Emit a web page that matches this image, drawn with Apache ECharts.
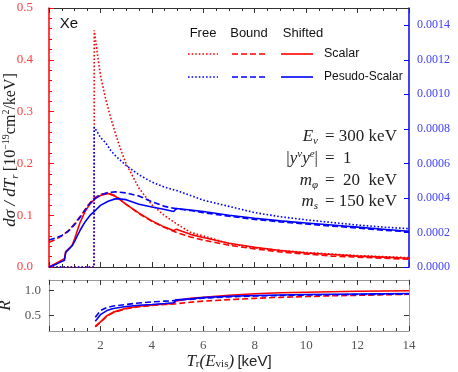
<!DOCTYPE html>
<html>
<head>
<meta charset="utf-8">
<script src="https://cdn.jsdelivr.net/npm/echarts@6/dist/echarts.min.js"></script>
<style>
body { margin: 0; background: #fff; }
#container { width: 458px; height: 372px; }
</style>
</head>
<body>
<div id="container"></div>
<script>
// free electron (x shared by both free curves)
var freeX = [0, 1.75, 1.76, 1.9, 2.0, 2.2, 2.4, 2.6, 2.8, 3.0, 3.5, 4.0, 4.5, 5.0, 5.5, 6, 7, 8, 9, 10, 11, 12, 13, 14];
var scalarFree = [0, 0, 0.457, 0.405, 0.37, 0.325, 0.288, 0.255, 0.225, 0.199, 0.152, 0.12, 0.099, 0.082, 0.067, 0.06, 0.045, 0.037, 0.032, 0.028, 0.025, 0.022, 0.02, 0.018];
var pseudoFree = [0, 0, 0.00081, 0.000777, 0.00075, 0.00072, 0.000675, 0.000642, 0.000615, 0.000588, 0.000534, 0.000492, 0.000462, 0.000441, 0.000414, 0.000387, 0.000351, 0.000315, 0.000291, 0.000273, 0.000258, 0.000243, 0.000231, 0.000222];

// bound electron
var boundX = [0, 0.25, 0.5, 0.75, 1.0, 1.25, 1.5, 1.75, 2.0, 2.3, 2.6, 3.0, 3.5, 4.0, 4.5, 5, 5.5, 6, 7, 8, 9, 10, 11, 12, 13, 14];
var scalarBound = [0.048, 0.053, 0.06, 0.07, 0.084, 0.1, 0.118, 0.133, 0.14, 0.143, 0.137, 0.121, 0.103, 0.088, 0.076, 0.066, 0.058, 0.052, 0.042, 0.035, 0.029, 0.025, 0.021, 0.019, 0.017, 0.015];
var pseudoBound = [0.000156, 0.000168, 0.000183, 0.000207, 0.000246, 0.000297, 0.000351, 0.000393, 0.000417, 0.000432, 0.000435, 0.000429, 0.000411, 0.000378, 0.000351, 0.000336, 0.000327, 0.000315, 0.000294, 0.000276, 0.000261, 0.000249, 0.000237, 0.000225, 0.000213, 0.000204];

// shifted
var shiftX = [0, 0.3, 0.6, 0.65, 0.8, 0.9, 1.0, 1.2, 1.4, 1.6, 1.8, 2.0, 2.3, 2.6, 3.0, 3.5, 4.0, 4.5, 4.85, 4.95, 5.5, 6, 7, 8, 9, 10, 11, 12, 13, 14];
var scalarShift = [0, 0.008, 0.016, 0.03, 0.037, 0.042, 0.055, 0.085, 0.107, 0.122, 0.132, 0.138, 0.142, 0.136, 0.121, 0.104, 0.089, 0.077, 0.07, 0.073, 0.063, 0.057, 0.046, 0.038, 0.032, 0.027, 0.024, 0.021, 0.019, 0.017];
var pseudoShift = [0, 0.000018, 0.000039, 0.000084, 0.000108, 0.000123, 0.00015, 0.00021, 0.000261, 0.0003, 0.000327, 0.000357, 0.000381, 0.000396, 0.00039, 0.000363, 0.000348, 0.000333, 0.000321, 0.000339, 0.00033, 0.000321, 0.0003, 0.000282, 0.000267, 0.000255, 0.000243, 0.000231, 0.000219, 0.000207];

// ratio panel
var ratioX = [1.8, 2, 2.25, 2.5, 3, 3.5, 4, 4.5, 4.85, 4.95, 5.5, 6, 7, 8, 9, 10, 11, 12, 13, 14];
var ratioScalarShift = [0.29, 0.38, 0.5, 0.57, 0.645, 0.685, 0.71, 0.73, 0.74, 0.79, 0.84, 0.86, 0.9, 0.93, 0.95, 0.96, 0.97, 0.98, 0.985, 0.99];
var ratioScalarBound = [0.28, 0.37, 0.49, 0.56, 0.635, 0.675, 0.7, 0.72, 0.73, 0.735, 0.765, 0.785, 0.815, 0.84, 0.86, 0.875, 0.89, 0.9, 0.91, 0.92];
var ratioPseudoShift = [0.39, 0.52, 0.6, 0.64, 0.68, 0.705, 0.72, 0.74, 0.755, 0.81, 0.83, 0.855, 0.88, 0.895, 0.905, 0.915, 0.92, 0.925, 0.93, 0.935];
var ratioPseudoBound = [0.47, 0.6, 0.66, 0.69, 0.72, 0.75, 0.77, 0.785, 0.795, 0.81, 0.82, 0.845, 0.87, 0.885, 0.895, 0.905, 0.91, 0.915, 0.92, 0.925];

var RED = '#ff0000', BLUE = '#0000ff';
var serif = 'Liberation Serif';
var sans = 'Liberation Sans';

function pairs(xs, ys) {
    return xs.map(function (x, i) { return [x, ys[i]]; });
}

function line(name, xs, ys, color, type, xi, yi) {
    return {
        name: name, type: 'line', xAxisIndex: xi, yAxisIndex: yi,
        data: pairs(xs, ys), showSymbol: false, animation: false,
        lineStyle: { color: color, width: 1.6, type: type }
    };
}

var dotted = [1.6, 2];
var dashed = [6, 3];

function xTicks(grid, pos, labels) {
    var col = grid === 0 ? '#333' : '#999';
    return {
        type: 'value', gridIndex: grid, position: pos, min: 0, max: 14, interval: 2,
        axisLine: { show: true, onZero: false, lineStyle: { color: col, width: 1 } },
        axisTick: { show: true, inside: true, length: 5, lineStyle: { color: '#333' } },
        minorTick: { show: true, splitNumber: 4, length: 3, lineStyle: { color: '#333' } },
        axisLabel: {
            show: labels, fontFamily: serif, fontSize: 13, color: '#555', margin: 8, showMinLabel: false
        },
        splitLine: { show: false }
    };
}

function paramLabel(y, sym, rest) {
    var rich = {
        i: { fontFamily: serif, fontStyle: 'italic', fontSize: 17, fill: '#222', lineHeight: 20 },
        n: { fontFamily: serif, fontSize: 17, fill: '#222', lineHeight: 20 },
        sub: { fontFamily: serif, fontStyle: 'italic', fontSize: 11, fill: '#222', verticalAlign: 'bottom' },
        sup: { fontFamily: serif, fontStyle: 'italic', fontSize: 11, fill: '#222', verticalAlign: 'top' }
    };
    return {
        type: 'group',
        children: [
            { type: 'text', x: 318, y: y, style: { text: sym, rich: rich, align: 'right', verticalAlign: 'middle' } },
            { type: 'text', x: 325, y: y, style: { text: '{n|' + rest + '}', rich: rich, align: 'left', verticalAlign: 'middle' } }
        ]
    };
}

var dom = document.getElementById('container');
var myChart = echarts.init(dom);
var option = {
    backgroundColor: '#fff',
    animation: false,
    grid: [
        { left: 49, right: 49, top: 8, height: 259, outerBoundsMode: 'none' },
        { left: 49, right: 49, top: 280, height: 51, outerBoundsMode: 'none' }
    ],
    xAxis: [
        xTicks(0, 'bottom', false),
        xTicks(0, 'top', false),
        Object.assign(xTicks(1, 'bottom', true), {
            name: '{i|T}{sub|r}{i|(E}{sub|vis}{i|)} {n|[keV]}',
            nameLocation: 'middle', nameGap: 20,
            nameTextStyle: {
                rich: {
                    i: { fontFamily: serif, fontStyle: 'italic', fontSize: 17, color: '#222' },
                    sub: { fontFamily: serif, fontSize: 11, color: '#222', verticalAlign: 'bottom', padding: [6, 0, 0, 0] },
                    n: { fontFamily: sans, fontSize: 15, color: '#222' }
                }
            }
        }),
        xTicks(1, 'top', false)
    ],
    yAxis: [
        {
            type: 'value', gridIndex: 0, position: 'left', min: 0, max: 0.5, interval: 0.1,
            axisLine: { show: true, onZero: false, lineStyle: { color: RED, width: 1.5 } },
            axisTick: { inside: true, length: 5, lineStyle: { color: RED } },
            minorTick: { show: true, splitNumber: 5, length: 3, lineStyle: { color: RED } },
            axisLabel: { fontFamily: serif, fontSize: 13, color: '#ff4040', margin: 16,
                formatter: function (v) { return v.toFixed(1); } },
            splitLine: { show: false }
        },
        {
            type: 'value', gridIndex: 0, position: 'right', min: 0, max: 0.0015, interval: 0.0002,
            axisLine: { show: true, onZero: false, lineStyle: { color: BLUE, width: 1.5 } },
            axisTick: { inside: true, length: 5, lineStyle: { color: BLUE } },
            axisLabel: { fontFamily: serif, fontSize: 12, color: '#4040ff', margin: 8, showMaxLabel: false,
                formatter: function (v) { return v.toFixed(4); } },
            splitLine: { show: false }
        },
        {
            type: 'value', gridIndex: 1, position: 'left', min: 0.2, max: 1.2,
            name: 'R', nameLocation: 'middle', nameGap: 32, nameRotate: 90,
            nameTextStyle: { fontFamily: serif, fontStyle: 'italic', fontSize: 17, color: '#222' },
            axisLine: { show: true, onZero: false, lineStyle: { color: '#999' } },
            axisTick: { inside: true, length: 5, customValues: [0.5, 1.0], lineStyle: { color: '#333' } },
            axisLabel: { fontFamily: serif, fontSize: 13, color: '#555', margin: 8, customValues: [0.5, 1.0],
                formatter: function (v) { return v.toFixed(1); } },
            splitLine: { show: false }
        },
        {
            type: 'value', gridIndex: 1, position: 'right', min: 0.2, max: 1.2,
            axisLine: { show: true, onZero: false, lineStyle: { color: '#999' } },
            axisTick: { inside: true, length: 5, customValues: [0.5, 1.0], lineStyle: { color: '#333' } },
            axisLabel: { show: false },
            splitLine: { show: false }
        }
    ],
    series: [
        line('Scalar Free', freeX, scalarFree, RED, dotted, 0, 0),
        line('Scalar Bound', boundX, scalarBound, RED, dashed, 0, 0),
        line('Scalar Shifted', shiftX, scalarShift, RED, 'solid', 0, 0),
        line('Pseudo Free', freeX, pseudoFree, BLUE, dotted, 0, 1),
        line('Pseudo Bound', boundX, pseudoBound, BLUE, dashed, 0, 1),
        line('Pseudo Shifted', shiftX, pseudoShift, BLUE, 'solid', 0, 1),
        line('R Scalar Bound', ratioX, ratioScalarBound, RED, dashed, 2, 2),
        line('R Scalar Shifted', ratioX, ratioScalarShift, RED, 'solid', 2, 2),
        line('R Pseudo Bound', ratioX, ratioPseudoBound, BLUE, dashed, 2, 2),
        line('R Pseudo Shifted', ratioX, ratioPseudoShift, BLUE, 'solid', 2, 2)
    ],
    graphic: [
        // y axis title
        {
            type: 'text', x: 11, y: 150, rotation: Math.PI / 2,
            style: {
                text: '{i|dσ / dT}{sub|r} {n|[10}{sup|−19}{n|cm}{sup|2}{n|/keV]}',
                align: 'center', verticalAlign: 'middle',
                rich: {
                    i: { fontFamily: serif, fontStyle: 'italic', fontSize: 17, fill: '#222', lineHeight: 20 },
                    sub: { fontFamily: serif, fontStyle: 'italic', fontSize: 11, fill: '#222', verticalAlign: 'bottom' },
                    n: { fontFamily: serif, fontSize: 16, fill: '#222', lineHeight: 20 },
                    sup: { fontFamily: serif, fontSize: 10, fill: '#222', verticalAlign: 'top' }
                }
            }
        },
        { type: 'text', x: 69, y: 24, style: { text: 'Xe', fontFamily: sans, fontSize: 15, fill: '#111', align: 'center', verticalAlign: 'middle' } },
        // legend header
        { type: 'text', x: 203, y: 33, style: { text: 'Free', fontFamily: sans, fontSize: 13, fill: '#111', align: 'center', verticalAlign: 'middle' } },
        { type: 'text', x: 249, y: 33, style: { text: 'Bound', fontFamily: sans, fontSize: 13, fill: '#111', align: 'center', verticalAlign: 'middle' } },
        { type: 'text', x: 303, y: 33, style: { text: 'Shifted', fontFamily: sans, fontSize: 13, fill: '#111', align: 'center', verticalAlign: 'middle' } },
        // legend rows
        { type: 'line', shape: { x1: 188, y1: 54, x2: 218, y2: 54 }, style: { stroke: RED, lineWidth: 1.6, lineDash: dotted } },
        { type: 'line', shape: { x1: 232, y1: 54, x2: 265, y2: 54 }, style: { stroke: RED, lineWidth: 1.6, lineDash: dashed } },
        { type: 'line', shape: { x1: 281, y1: 54, x2: 313, y2: 54 }, style: { stroke: RED, lineWidth: 1.6 } },
        { type: 'text', x: 324, y: 54, style: { text: 'Scalar', fontFamily: sans, fontSize: 12.5, fill: '#111', verticalAlign: 'middle' } },
        { type: 'line', shape: { x1: 188, y1: 77, x2: 218, y2: 77 }, style: { stroke: BLUE, lineWidth: 1.6, lineDash: dotted } },
        { type: 'line', shape: { x1: 232, y1: 77, x2: 265, y2: 77 }, style: { stroke: BLUE, lineWidth: 1.6, lineDash: dashed } },
        { type: 'line', shape: { x1: 281, y1: 77, x2: 313, y2: 77 }, style: { stroke: BLUE, lineWidth: 1.6 } },
        { type: 'text', x: 324, y: 77, style: { text: 'Pesudo-Scalar', fontFamily: sans, fontSize: 12, fill: '#111', verticalAlign: 'middle' } },
        // parameters
        paramLabel(137, '{i|E}{sub|ν}', '= 300 keV'),
        paramLabel(159, '{n||}{i|y}{sup|ν}{i|y}{sup|e}{n||}', '=  1'),
        paramLabel(181, '{i|m}{sub|φ}', '=  20  keV'),
        paramLabel(202, '{i|m}{sub|s}', '= 150 keV')
    ]
};

if (option && typeof option === "object") {
    myChart.setOption(option, true);
}
</script>
</body>
</html>
